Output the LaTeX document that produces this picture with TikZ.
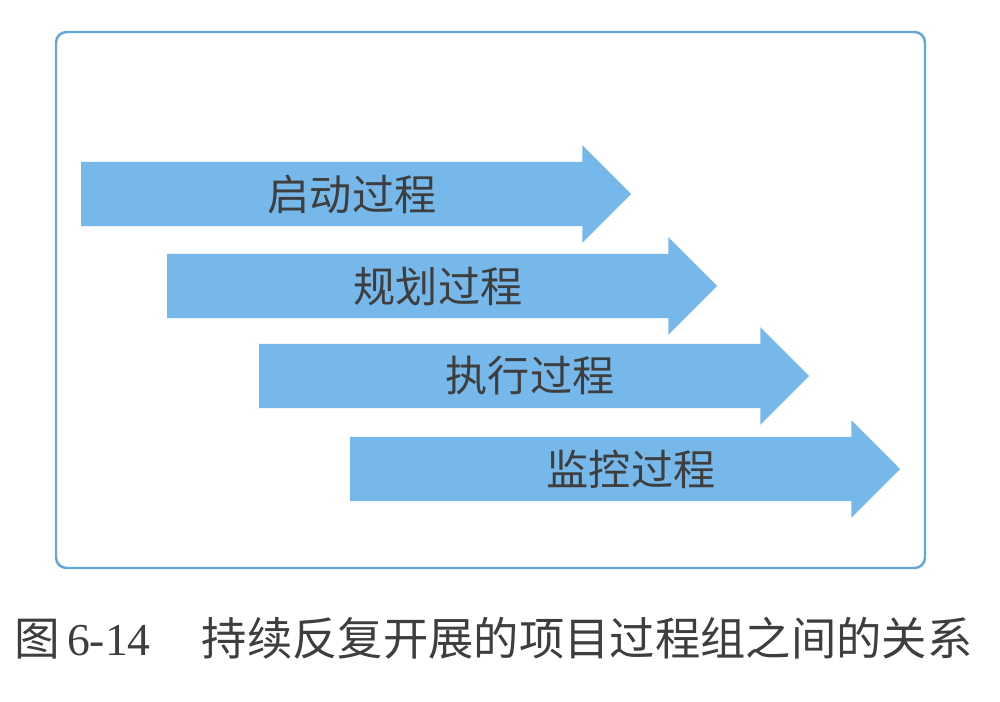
\documentclass[tikz,border=0pt]{standalone}
\usepackage{fontspec}
\newfontfamily\cjk{Noto Sans CJK SC}
\newfontfamily\numfont{Liberation Serif}
\usetikzlibrary{shapes.arrows}
\definecolor{arrowblue}{RGB}{118,184,234}
\definecolor{frameblue}{RGB}{96,168,222}
\definecolor{textgray}{RGB}{62,62,62}

\begin{document}
\begin{tikzpicture}[x=0.02cm, y=-0.02cm,
  proc/.style = {single arrow, fill=arrowblue, minimum width=1.95cm,
    minimum height=11cm, single arrow head extend=0.24cm, inner sep=2pt,
    text=textgray, font=\cjk\fontsize{24}{28}\selectfont,
    execute at begin node=\hspace{0.48cm}},
  frame/.style = {draw=frameblue, line width=1.4pt, rounded corners=6pt}
  ]
  \useasboundingbox[fill=white] (0,0) rectangle (1000,701);
  \draw[frame] (56,32) rectangle (925,568);

  % the four process groups
  \node[proc] (start)   at (340,194) {启动过程};
  \node[proc] (plan)    at (426,286) {规划过程};
  \node[proc] (exec)    at (518,376) {执行过程};
  \node[proc] (monitor) at (609,469) {\hspace{0.4cm}监控过程};

  \node[anchor=west, text=textgray, inner sep=0pt] (caption) at (14,638)
    {{\cjk\fontsize{26}{30}\selectfont 图}\hspace{4pt}{\numfont\fontsize{26}{30}\selectfont 6-14}\hspace{29pt}{\cjk\fontsize{25.8}{30}\selectfont 持续反复开展的项目过程组之间的关系}};
\end{tikzpicture}
\end{document}
